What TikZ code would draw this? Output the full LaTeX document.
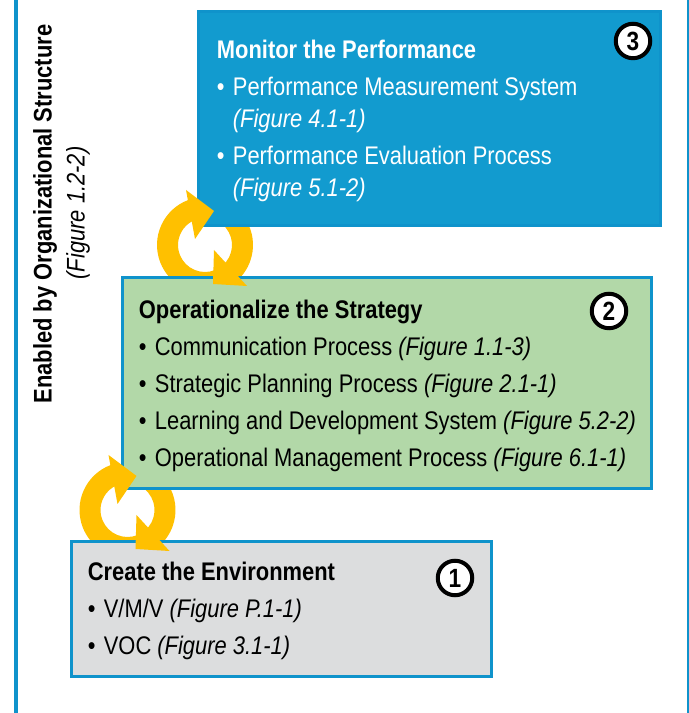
\documentclass[tikz,border=0pt]{standalone}
\usepackage{fontspec}
\setmainfont[FakeStretch=0.86]{Liberation Sans}
\usetikzlibrary{positioning}

\definecolor{frameblue}{HTML}{0F93CB}
\definecolor{monitorblue}{HTML}{129BCF}
\definecolor{strategygreen}{HTML}{B2D8A8}
\definecolor{envgrey}{HTML}{DCDDDE}
\definecolor{cycleamber}{HTML}{FFC000}

\newcommand{\bul}{\makebox[0.32cm][l]{\textbullet}}
\newcommand{\fig}[1]{\textit{(Figure #1)}}

\begin{document}
\begin{tikzpicture}[
    x = 0.02cm, y = 0.02cm,
    node distance = 0.3cm and 0.36cm,
    stagebox/.style = {rectangle, draw=frameblue, line width=0.06cm, inner sep=0pt},
    stagetext/.style = {inner sep=0pt, align=left, font=\fontsize{14.5}{21}\selectfont},
    badge/.style = {circle, draw=black, fill=white, line width=0.08cm, minimum size=0.69cm, inner sep=0pt, font=\fontsize{15}{15}\selectfont\bfseries},
    sidetext/.style = {inner sep=0pt, rotate=90, font=\fontsize{14.5}{16}\selectfont},
    cyclefill/.style = {fill=cycleamber},
    cyclebody/.pic = {
        \fill[cyclefill] (105:48) arc[start angle=105, end angle=292, radius=0.96cm] -- (292:27) arc[start angle=292, end angle=105, radius=0.54cm] -- cycle;
        \fill[cyclefill] (70:48) arc[start angle=70, end angle=-50, radius=0.96cm] -- (-50:27) arc[start angle=-50, end angle=70, radius=0.54cm] -- cycle;
    },
    cycleheads/.pic = {
        \fill[cyclefill] (-19,55) -- (9,34) -- (-10,6) -- cycle;
        \fill[cyclefill] (9,-5) -- (8,-39) -- (42,-41) -- cycle;
    }
]
\useasboundingbox (0,0) rectangle (689,713);

% Outer frame lines
\draw[frameblue, line width=0.08cm] (16,0) -- (16,713);
\draw[frameblue, line width=0.08cm] (689,0) -- (689,713);

% Cycle arrows, behind the boxes
\pic at (205,468) {cyclebody};
\pic at (127.5,203) {cyclebody};

% Define nodes
\node[stagebox, fill=monitorblue, minimum width=9.24cm, minimum height=4.28cm] (monitor) at (429.5,594.5) {};
\node[stagebox, fill=strategygreen, minimum width=10.58cm, minimum height=4.22cm] (strategy) at (387,330) {};
\node[stagebox, fill=envgrey, minimum width=8.40cm, minimum height=2.70cm] (environment) at (281.5,104) {};

% Arrow heads sit on top of the boxes
\pic at (205,468) {cycleheads};
\pic at (127.5,203) {cycleheads};

\node[stagetext, text=white, below right=0.60cm and 0.39cm of monitor.north west] (monitortext) {%
    \textbf{Monitor the Performance}\\
    \bul Performance Measurement System\\[-0.1cm]
    \hspace{0.32cm}\fig{4.1-1}\\
    \bul Performance Evaluation Process\\[-0.1cm]
    \hspace{0.32cm}\fig{5.1-2}};
\node[stagetext, below right=0.48cm and 0.35cm of strategy.north west] (strategytext) {%
    \textbf{Operationalize the Strategy}\\
    \bul Communication Process \fig{1.1-3}\\
    \bul Strategic Planning Process \fig{2.1-1}\\
    \bul Learning and Development System \fig{5.2-2}\\
    \bul Operational Management Process \fig{6.1-1}};
\node[stagetext, below right=0.44cm and 0.35cm of environment.north west] (environmenttext) {%
    \textbf{Create the Environment}\\
    \bul V/M/V \fig{P.1-1}\\
    \bul VOC \fig{3.1-1}};

\node[badge] (badgethree) at (633,672) {3};
\node[badge] (badgetwo) at (609,402) {2};
\node[badge] (badgeone) at (455,135) {1};

\node[sidetext] (enabled) at (45,499) {\textbf{Enabled by Organizational Structure}};
\node[sidetext] (enabledfig) at (78,500) {\fig{1.2-2}};

\end{tikzpicture}
\end{document}
